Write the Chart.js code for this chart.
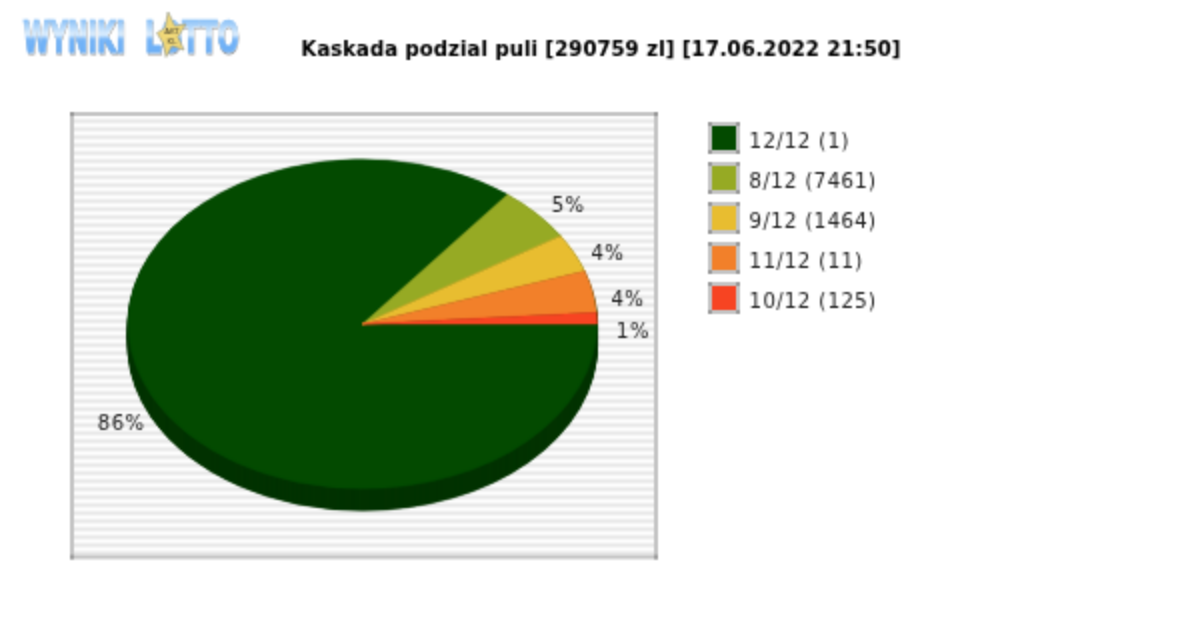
<!DOCTYPE html>
<html lang="pl">
<head>
  <meta charset="UTF-8">
  <title>Kaskada podzial puli</title>
  <script src="https://cdn.jsdelivr.net/npm/chart.js@4"></script>
  <style>
    body { margin: 0; background: #fff; }
    .chart-box { position: relative; width: 1200px; height: 630px; }
  </style>
</head>
<body>
  <div class="chart-box"><canvas id="myChart"></canvas></div>

  <script>
    const titleText = 'Kaskada podzial puli [290759 zl] [17.06.2022 21:50]';
    const categories = ['12/12 (1)', '8/12 (7461)', '9/12 (1464)', '11/12 (11)', '10/12 (125)'];
    const shares = [85.6, 5.4, 3.8, 4.1, 1.1];
    const sliceColors = ['#034a00', '#96aa24', '#e8bd30', '#f2802a', '#f74422'];

    const font = 'DejaVu Sans';
    const squash = 165 / 235;   // the pie is drawn as a flat ellipse
    const depth = 22;           // height of the 3d rim in px
    const rimColor = '#033300';
    // small shifts of the percent labels, same order as the slices
    const labelNudge = [[2, 23], [5, 3], [1, 7], [0, 11], [0, 14]];

    const plotFrame = {
      id: 'plotFrame',
      beforeDraw(chart) {
        const ctx = chart.ctx;
        const stripes = ['#ffffff', '#f5f5f5', '#e8e8e8', '#f2f2f2'];
        ctx.save();
        ctx.fillStyle = '#fff';
        ctx.fillRect(0, 0, 1200, 630);
        for (let y = 116; y < 555; y += 2) {
          ctx.fillStyle = stripes[((y - 116) / 2) % 4];
          ctx.fillRect(74, y, 580, 2);
        }
        ctx.fillStyle = '#c4c4c4';
        ctx.fillRect(70, 112, 588, 4);
        ctx.fillRect(70, 555, 588, 4);
        ctx.fillRect(70, 112, 4, 447);
        ctx.fillRect(654, 112, 4, 447);
        ctx.fillStyle = '#999';
        [[70, 112], [654, 112], [70, 555], [654, 555]].forEach(p => ctx.fillRect(p[0], p[1], 4, 4));
        ctx.restore();
      }
    };

    const flatPie = {
      id: 'flatPie',
      afterLayout(chart) {
        // title is centred on the whole picture, legend hangs lower than the plot top
        chart.titleBlock.left = 0;
        chart.titleBlock.right = 1202;
        const legend = chart.legend;
        legend.top = 116;
        legend.left += 2;
        const draw = legend.draw;
        legend.draw = function () {
          chart.ctx.letterSpacing = '0.9px';
          draw.apply(legend, arguments);
          chart.ctx.letterSpacing = '0px';
        };
        const titleDraw = chart.titleBlock.draw;
        chart.titleBlock.draw = function () {
          chart.ctx.letterSpacing = '0.2px';
          titleDraw.apply(chart.titleBlock, arguments);
          chart.ctx.letterSpacing = '0px';
        };
      },
      beforeDatasetsDraw(chart) {
        const ctx = chart.ctx;
        const arcs = chart.getDatasetMeta(0).data;
        ctx.save();
        ctx.translate(arcs[0].x, arcs[0].y);
        ctx.scale(1, squash);
        ctx.translate(-arcs[0].x, -arcs[0].y);

        // rim: the same arcs again, shifted down and darker
        for (let d = depth; d > 0; d--) {
          ctx.save();
          ctx.translate(0, d / squash);
          arcs.forEach(arc => {
            const bg = arc.options.backgroundColor;
            const bc = arc.options.borderColor;
            arc.options.backgroundColor = rimColor;
            arc.options.borderColor = rimColor;
            arc.draw(ctx);
            arc.options.backgroundColor = bg;
            arc.options.borderColor = bc;
          });
          ctx.restore();
        }
      },
      afterDatasetsDraw(chart) {
        const ctx = chart.ctx;
        ctx.restore();

        // percent labels around the ellipse
        const arcs = chart.getDatasetMeta(0).data;
        const total = shares.reduce((a, b) => a + b, 0);
        ctx.save();
        ctx.font = '20px "' + font + '"';
        ctx.letterSpacing = '1px';
        ctx.fillStyle = '#222';
        ctx.textAlign = 'center';
        ctx.textBaseline = 'middle';
        arcs.forEach((arc, i) => {
          const mid = (arc.startAngle + arc.endAngle) / 2;
          const x = arc.x + (arc.outerRadius + 36) * Math.cos(mid) + labelNudge[i][0];
          const y = arc.y + (arc.outerRadius + 20) * squash * Math.sin(mid) + labelNudge[i][1];
          ctx.fillText(Math.round(shares[i] / total * 100) + '%', x, y);
        });
        ctx.restore();
      },
      afterDraw(chart) {
        const ctx = chart.ctx;
        // legend swatches: 24px colour square, grey frame, darker corners
        ctx.save();
        sliceColors.forEach((color, i) => {
          const left = 708, top = 122 + i * 40;
          ctx.fillStyle = '#c4c4c4';
          ctx.fillRect(left, top, 32, 32);
          ctx.fillStyle = color;
          ctx.fillRect(left + 4, top + 4, 24, 24);
          ctx.fillStyle = '#999';
          [[0, 0], [28, 0], [0, 28], [28, 28]].forEach(p => ctx.fillRect(left + p[0], top + p[1], 4, 4));
        });
        ctx.restore();
        drawLogo(ctx);
      }
    };

    function drawLogo(ctx) {
      ctx.save();
      ctx.textBaseline = 'alphabetic';
      ctx.textAlign = 'left';
      ctx.font = 'bold 44px "' + font + '"';
      ctx.lineJoin = 'miter';
      const word = (text, x, w) => {
        ctx.save();
        ctx.translate(x, 52);
        ctx.scale(w / ctx.measureText(text).width, 1);
        const grad = ctx.createLinearGradient(0, -32, 0, 0);
        grad.addColorStop(0, '#8cc2f8');
        grad.addColorStop(0.45, '#dceefe');
        grad.addColorStop(0.62, '#74b4f8');
        grad.addColorStop(1, '#6eb0f6');
        ctx.fillStyle = '#9a9a9a';
        ctx.strokeStyle = '#9a9a9a';
        ctx.lineWidth = 1.5;
        ctx.strokeText(text, 1.5, 1);
        ctx.fillStyle = grad;
        ctx.strokeStyle = grad;
        ctx.strokeText(text, 0, 0);
        ctx.fillText(text, 0, 0);
        ctx.restore();
      };
      word('WYNIKI', 23, 102);
      word('LOTTO', 145, 94);

      // star
      const star = [[168, 12], [175, 26], [186, 24], [178, 37], [184, 50], [172, 46], [166, 57], [163, 43], [157, 33], [165, 28]];
      ctx.beginPath();
      star.forEach(p => ctx.lineTo(p[0], p[1]));
      ctx.closePath();
      ctx.fillStyle = '#f0d878';
      ctx.fill();
      ctx.strokeStyle = '#8a8f80';
      ctx.lineWidth = 1;
      ctx.stroke();
      ctx.fillStyle = '#4a4530';
      ctx.font = '8px "' + font + '"';
      ctx.textAlign = 'center';
      ctx.fillText('AKT', 172, 33);
      ctx.fillText('KL', 172, 43);
      ctx.restore();
    }

    new Chart(document.getElementById('myChart'), {
      type: 'pie',
      data: {
        labels: categories,
        datasets: [{
          data: shares,
          backgroundColor: sliceColors,
          borderColor: sliceColors,
          borderWidth: 1
        }]
      },
      plugins: [plotFrame, flatPie],
      options: {
        responsive: true,
        maintainAspectRatio: false,
        devicePixelRatio: 0.5,   // drawn small and scaled up, like the original png
        animation: false,
        rotation: 90,
        layout: { padding: { left: 28, right: 325, top: 0, bottom: 71 } },
        plugins: {
          title: {
            display: true,
            text: titleText,
            color: '#000',
            font: { family: font, size: 20, weight: 'bold' },
            padding: { top: 38, bottom: 27 }
          },
          legend: {
            display: true,
            position: 'right',
            align: 'start',
            labels: {
              boxWidth: 28,
              boxHeight: 28,
              padding: 12,
              color: '#222',
              font: { family: font, size: 20 },
              generateLabels(chart) {
                // the swatches themselves are painted in afterDraw
                const items = Chart.overrides.pie.plugins.legend.labels.generateLabels(chart);
                items.forEach(item => {
                  item.fillStyle = 'rgba(0,0,0,0)';
                  item.strokeStyle = 'rgba(0,0,0,0)';
                  item.lineWidth = 0;
                });
                return items;
              }
            }
          },
          tooltip: { enabled: false }
        }
      }
    });
  </script>
</body>
</html>
